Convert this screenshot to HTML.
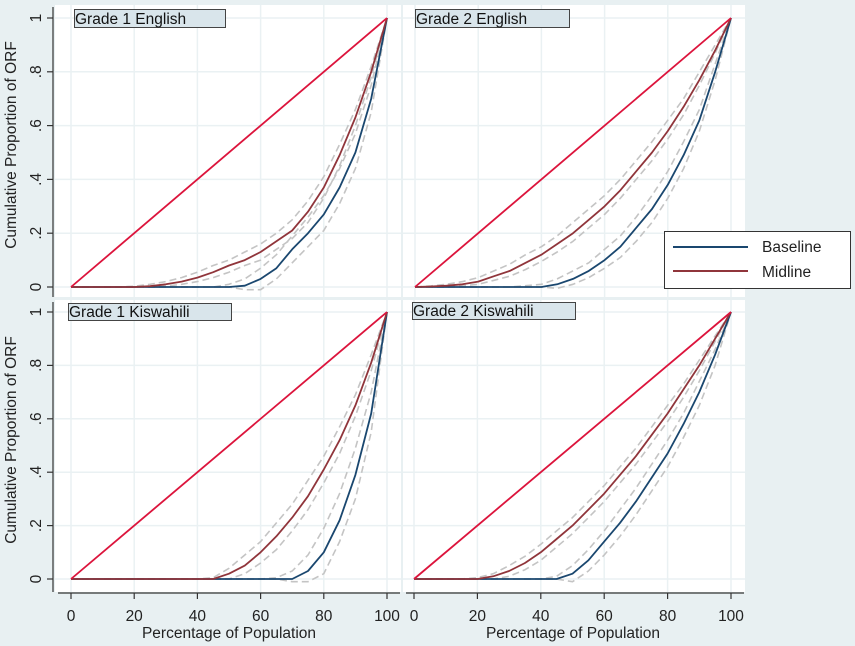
<!DOCTYPE html>
<html><head><meta charset="utf-8"><style>
html,body{margin:0;padding:0;background:#e8f0f2;}
svg{display:block;font-family:"Liberation Sans",sans-serif;}
</style></head><body>
<svg id="chart" width="855" height="646" viewBox="0 0 855 646" xmlns="http://www.w3.org/2000/svg">
<rect x="0" y="0" width="855" height="646" fill="#e8f0f2"/>
<g id="panels"></g>
<text x="12" y="145" transform="rotate(-90 12 145)" text-anchor="middle" font-size="15.5" fill="#222" dominant-baseline="middle">Cumulative Proportion of ORF</text>
<text x="12" y="440" transform="rotate(-90 12 440)" text-anchor="middle" font-size="15.5" fill="#222" dominant-baseline="middle">Cumulative Proportion of ORF</text>
<text x="229" y="638" text-anchor="middle" font-size="15.5" fill="#222">Percentage of Population</text>
<text x="573" y="638" text-anchor="middle" font-size="15.5" fill="#222">Percentage of Population</text>
<g>
<rect x="664.5" y="231.5" width="186" height="57" fill="#fff" stroke="#333" stroke-width="1"/>
<line x1="673" y1="247" x2="748" y2="247" stroke="#1a476f" stroke-width="2"/>
<text x="762" y="252" font-size="15.5" fill="#222">Baseline</text>
<line x1="673" y1="271" x2="748" y2="271" stroke="#90353b" stroke-width="2"/>
<text x="762" y="277" font-size="15.5" fill="#222">Midline</text>
</g>
</svg>
<script>
const xs = [0,5,10,15,20,25,30,35,40,45,50,55,60,65,70,75,80,85,90,95,100];
const yTicks = [0,0.2,0.4,0.6,0.8,1];
const yTickLabels = ["0",".2",".4",".6",".8","1"];
const xTicks = [0,20,40,60,80,100];
const xTickLabels = ["0","20","40","60","80","100"];
const panelTitles = ["Grade 1 English","Grade 2 English","Grade 1 Kiswahili","Grade 2 Kiswahili"];

const g1EngBase   = [0,0,0,0,0,0,0,0,0,0,0,0.005,0.03,0.07,0.14,0.2,0.27,0.37,0.5,0.7,1];
const g1EngBaseLo = [0,0,0,0,0,0,0,0,0,0,0,-0.01,-0.01,0.03,0.09,0.15,0.21,0.31,0.44,0.65,1];
const g1EngBaseHi = [0,0,0,0,0,0,0,0,0,0,0.01,0.03,0.07,0.12,0.19,0.26,0.34,0.44,0.57,0.75,1];
const g1EngMid    = [0,0,0,0,0,0.003,0.01,0.02,0.035,0.055,0.08,0.1,0.13,0.17,0.21,0.28,0.37,0.49,0.63,0.8,1];
const g1EngMidLo  = [0,0,0,0,0,0,0.003,0.01,0.02,0.035,0.055,0.08,0.1,0.14,0.18,0.24,0.33,0.45,0.6,0.78,1];
const g1EngMidHi  = [0,0,0,0,0.003,0.01,0.02,0.035,0.055,0.08,0.1,0.13,0.16,0.2,0.25,0.32,0.41,0.53,0.66,0.82,1];

const g2EngBase   = [0,0,0,0,0,0,0,0,0,0.01,0.03,0.06,0.1,0.15,0.22,0.29,0.38,0.49,0.62,0.8,1];
const g2EngBaseLo = [0,0,0,0,0,0,0,0,0,-0.005,0.01,0.035,0.07,0.11,0.17,0.24,0.33,0.44,0.58,0.77,1];
const g2EngBaseHi = [0,0,0,0,0,0,0,0.005,0.01,0.03,0.06,0.09,0.14,0.19,0.26,0.34,0.43,0.54,0.66,0.83,1];
const g2EngMid    = [0,0.002,0.005,0.01,0.02,0.04,0.06,0.09,0.12,0.16,0.2,0.25,0.3,0.36,0.43,0.5,0.58,0.67,0.77,0.88,1];
const g2EngMidLo  = [0,0,0.002,0.005,0.01,0.025,0.04,0.065,0.095,0.13,0.17,0.22,0.27,0.33,0.4,0.47,0.55,0.64,0.75,0.87,1];
const g2EngMidHi  = [0,0.004,0.01,0.02,0.035,0.06,0.085,0.12,0.15,0.19,0.24,0.29,0.34,0.4,0.47,0.54,0.62,0.7,0.8,0.9,1];

const g1KisBase   = [0,0,0,0,0,0,0,0,0,0,0,0,0,0,0,0.03,0.1,0.22,0.39,0.62,1];
const g1KisBaseLo = [0,0,0,0,0,0,0,0,0,0,0,0,0,0,-0.01,-0.01,0.02,0.14,0.3,0.55,1];
const g1KisBaseHi = [0,0,0,0,0,0,0,0,0,0,0,0,0,0.005,0.03,0.09,0.19,0.32,0.49,0.7,1];
const g1KisMid    = [0,0,0,0,0,0,0,0,0,0,0.02,0.05,0.1,0.16,0.23,0.31,0.41,0.52,0.65,0.81,1];
const g1KisMidLo  = [0,0,0,0,0,0,0,0,0,0,0,0.02,0.06,0.11,0.18,0.26,0.36,0.47,0.61,0.78,1];
const g1KisMidHi  = [0,0,0,0,0,0,0,0,0,0.005,0.04,0.09,0.14,0.21,0.28,0.37,0.46,0.57,0.69,0.84,1];

const g2KisBase   = [0,0,0,0,0,0,0,0,0,0,0.02,0.07,0.14,0.21,0.29,0.38,0.47,0.58,0.7,0.84,1];
const g2KisBaseLo = [0,0,0,0,0,0,0,0,0,0,-0.01,0.03,0.09,0.16,0.24,0.33,0.42,0.53,0.65,0.8,1];
const g2KisBaseHi = [0,0,0,0,0,0,0,0,0,0.01,0.05,0.11,0.18,0.26,0.34,0.43,0.52,0.62,0.74,0.86,1];
const g2KisMid    = [0,0,0,0,0,0.01,0.03,0.06,0.1,0.15,0.2,0.26,0.32,0.39,0.46,0.54,0.62,0.71,0.8,0.9,1];
const g2KisMidLo  = [0,0,0,0,0,0,0.01,0.035,0.07,0.12,0.17,0.23,0.29,0.36,0.43,0.51,0.59,0.68,0.78,0.89,1];
const g2KisMidHi  = [0,0,0,0,0.005,0.02,0.05,0.085,0.13,0.18,0.23,0.29,0.35,0.42,0.49,0.57,0.65,0.73,0.82,0.91,1];

const NS = "http://www.w3.org/2000/svg";
const root = document.getElementById('panels');
function mk(tag, attrs, parent){const e=document.createElementNS(NS,tag);for(const k in attrs)e.setAttribute(k,attrs[k]);parent.appendChild(e);return e;}

const layout = [
 {bx:55,by:5,bw:346,bh:292,x0:71,x1:387,y0:287,y1:18,yAxis:true,xAxis:false,tb:[74,9,151,18]},
 {bx:403,by:5,bw:342,bh:292,x0:415,x1:731,y0:287,y1:18,yAxis:false,xAxis:false,tb:[415,9,154,18]},
 {bx:55,by:300,bw:346,bh:292,x0:71,x1:387,y0:579,y1:312,yAxis:true,xAxis:true,tb:[68,303,163,17]},
 {bx:403,by:300,bw:342,bh:292,x0:414,x1:731,y0:579,y1:312,yAxis:false,xAxis:true,tb:[412,302,163,17]}
];
const series = [
 [g1EngBase,g1EngBaseLo,g1EngBaseHi,g1EngMid,g1EngMidLo,g1EngMidHi],
 [g2EngBase,g2EngBaseLo,g2EngBaseHi,g2EngMid,g2EngMidLo,g2EngMidHi],
 [g1KisBase,g1KisBaseLo,g1KisBaseHi,g1KisMid,g1KisMidLo,g1KisMidHi],
 [g2KisBase,g2KisBaseLo,g2KisBaseHi,g2KisMid,g2KisMidLo,g2KisMidHi]
];
const names = ["grade1-english","grade2-english","grade1-kiswahili","grade2-kiswahili"];

layout.forEach((L,i)=>{
  const sx=v=>L.x0+(v/100)*(L.x1-L.x0);
  const sy=v=>L.y0-v*(L.y0-L.y1);
  const g=mk('g',{},root);
  
  
  mk('rect',{x:L.bx,y:L.by,width:L.bw,height:L.bh,fill:'#fff'},g);
  xTicks.forEach(t=>{const l=mk('line',{x1:sx(t),x2:sx(t),y1:L.by,y2:L.by+L.bh,stroke:'#eaf1f3','stroke-width':1.5},g);
    
    });
  yTicks.forEach(t=>{const l=mk('line',{x1:L.bx,x2:L.bx+L.bw,y1:sy(t),y2:sy(t),stroke:'#eaf1f3','stroke-width':1.5},g);
    
    });
  const path=(arr,attrs,name)=>{const d=arr.map((v,j)=>(j?'L':'M')+sx(xs[j]).toFixed(1)+','+sy(v).toFixed(1)).join(' ');
    const p=mk('path',Object.assign({d:d,fill:'none','stroke-linejoin':'round'},attrs),g);
    
    };
  const s=series[i];
  const dash={stroke:'#c4c4c4','stroke-width':1.6,'stroke-dasharray':'7,4'};
  path(s[1],dash,'baseline-ci-lower');
  path(s[2],dash,'baseline-ci-upper');
  path(s[4],dash,'midline-ci-lower');
  path(s[5],dash,'midline-ci-upper');
  path(s[0],{stroke:'#1a476f','stroke-width':1.8},'baseline-curve');
  path(s[3],{stroke:'#90353b','stroke-width':1.8},'midline-curve');
  path([0,1],{stroke:'#dc143c','stroke-width':1.8,d:'M'+sx(0)+','+sy(0)+' L'+sx(100)+','+sy(1)},'equality-line');
  const tb=mk('rect',{x:L.tb[0]+0.5,y:L.tb[1]+0.5,width:L.tb[2],height:L.tb[3],fill:'#d9e5eb',stroke:'#444','stroke-width':1},g);
  
  
  const tt=mk('text',{x:L.tb[0]+1,y:L.tb[1]+L.tb[3]-3,'font-size':15.5,fill:'#111'},g);
  tt.textContent=panelTitles[i];
  
  
  if(L.yAxis){
    const ax=mk('line',{x1:53,x2:53,y1:L.by+2,y2:L.by+L.bh,stroke:'#333','stroke-width':1.2},g);
    
    
    yTicks.forEach((t,j)=>{mk('line',{x1:47,x2:53,y1:sy(t),y2:sy(t),stroke:'#333','stroke-width':1.2},g);
      const lb=mk('text',{x:37,y:sy(t),transform:`rotate(-90 37 ${sy(t)})`,'text-anchor':'middle','dominant-baseline':'middle','font-size':15.5,fill:'#222'},g);
      lb.textContent=yTickLabels[j];
      
      });
  }
  if(L.xAxis){
    const ax=mk('line',{x1:L.bx+3,x2:L.bx+L.bw-1,y1:593,y2:593,stroke:'#333','stroke-width':1.2},g);
    
    
    xTicks.forEach((t,j)=>{mk('line',{x1:sx(t),x2:sx(t),y1:593,y2:599,stroke:'#333','stroke-width':1.2},g);
      const lb=mk('text',{x:sx(t),y:621,'text-anchor':'middle','font-size':15.5,fill:'#222'},g);
      lb.textContent=xTickLabels[j];
      
      });
  }
});
</script>
</body></html>
